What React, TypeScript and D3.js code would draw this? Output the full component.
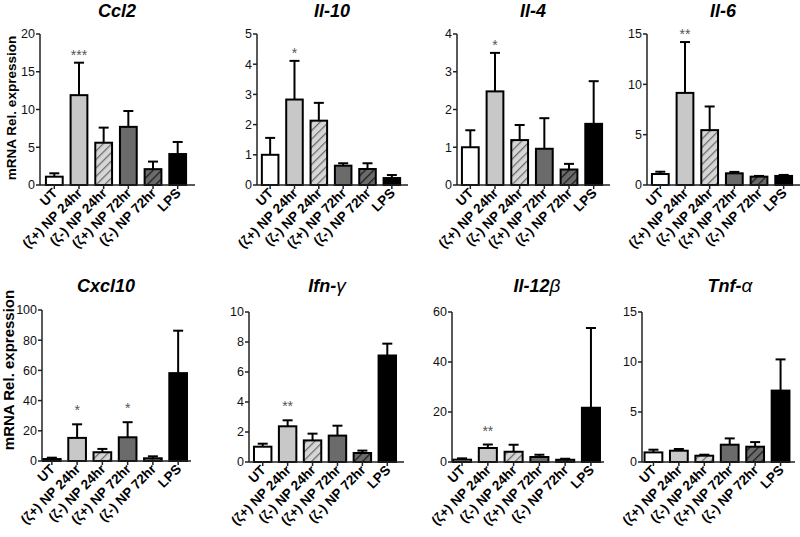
import React from 'react';
import * as d3 from 'd3';

const groups = ['UT', '(ζ+) NP 24hr', '(ζ-) NP 24hr', '(ζ+) NP 72hr', '(ζ-) NP 72hr', 'LPS'];
const genes = ['Ccl2', 'Il-10', 'Il-4', 'Il-6', 'Cxcl10', 'Ifn-γ', 'Il-12β', 'Tnf-α'];

const ccl2Mean = [1.1, 11.9, 5.6, 7.7, 2.1, 4.1];
const ccl2Err = [1.55, 16.2, 7.6, 9.8, 3.1, 5.7];
const il10Mean = [1.0, 2.83, 2.13, 0.64, 0.53, 0.23];
const il10Err = [1.56, 4.11, 2.72, 0.72, 0.72, 0.33];
const il4Mean = [1.0, 2.48, 1.19, 0.96, 0.41, 1.62];
const il4Err = [1.45, 3.5, 1.59, 1.77, 0.56, 2.75];
const il6Mean = [1.09, 9.15, 5.45, 1.16, 0.83, 0.9];
const il6Err = [1.32, 14.2, 7.8, 1.3, 0.9, 1.0];
const cxcl10Mean = [1.3, 15.3, 5.8, 15.7, 1.8, 58.2];
const cxcl10Err = [2.2, 24.3, 8.0, 25.7, 3.1, 86.3];
const ifngMean = [1.02, 2.38, 1.44, 1.76, 0.6, 7.1];
const ifngErr = [1.22, 2.78, 1.89, 2.42, 0.76, 7.89];
const il12bMean = [0.93, 5.6, 4.1, 2.0, 0.9, 21.7];
const il12bErr = [1.46, 7.0, 6.9, 2.9, 1.3, 53.6];
const tnfaMean = [0.96, 1.13, 0.63, 1.73, 1.53, 7.14];
const tnfaErr = [1.23, 1.3, 0.73, 2.36, 1.99, 10.26];

const means = [ccl2Mean, il10Mean, il4Mean, il6Mean, cxcl10Mean, ifngMean, il12bMean, tnfaMean];
const errs = [ccl2Err, il10Err, il4Err, il6Err, cxcl10Err, ifngErr, il12bErr, tnfaErr];
const yMax = [20, 5, 4, 15, 100, 10, 60, 15];
const yStep = [5, 1, 1, 5, 20, 2, 20, 5];
const stars = [
  ['', '***', '', '', '', ''],
  ['', '*', '', '', '', ''],
  ['', '*', '', '', '', ''],
  ['', '**', '', '', '', ''],
  ['', '*', '', '*', '', ''],
  ['', '**', '', '', '', ''],
  ['', '**', '', '', '', ''],
  ['', '', '', '', '', ''],
];

// layout (pixel positions)
const layout = [
  { x0: 40, w: 152, top: 34, bottom: 185, pi: 0.32, po: 0.24, titleX: 117, titleY: 17, starOff: 10 },
  { x0: 257, w: 148, top: 34, bottom: 185, pi: 0.32, po: 0.2, titleX: 332, titleY: 17, starOff: 10 },
  { x0: 457, w: 150, top: 34, bottom: 185, pi: 0.32, po: 0.2, titleX: 533, titleY: 17, starOff: 10 },
  { x0: 647, w: 150, top: 34, bottom: 185, pi: 0.32, po: 0.2, titleX: 723, titleY: 17, starOff: 10 },
  { x0: 42, w: 146, top: 310, bottom: 461, pi: 0.3, po: 0.04, titleX: 106, titleY: 292, starOff: 16 },
  { x0: 249, w: 152, top: 312, bottom: 462, pi: 0.3, po: 0.2, titleX: 327, titleY: 292, starOff: 16 },
  { x0: 452, w: 149, top: 312, bottom: 462, pi: 0.3, po: 0.04, titleX: 537, titleY: 292, starOff: 16 },
  { x0: 642, w: 150, top: 312, bottom: 462, pi: 0.3, po: 0.1, titleX: 730, titleY: 292, starOff: 16 },
];

const fills = ['#ffffff', '#c8c8c8', 'url(#hatchLight)', '#6b6b6b', 'url(#hatchDark)', '#000000'];
const FONT = 'Liberation Sans, Arial, sans-serif';

function Title({ name, x, y }: { name: string; x: number; y: number }) {
  const last = name[name.length - 1];
  const greek = /[α-ω]/.test(last);
  const main = greek ? name.slice(0, -1) : name;
  return (
    <text x={x} y={y} textAnchor="middle" fontFamily={FONT} fontSize={18} fontWeight="bold" fontStyle="italic" fill="#000">
      {main}
      {greek && <tspan fontWeight="normal" fontSize={19}>{last}</tspan>}
    </text>
  );
}

function Panel({ i }: { i: number }) {
  const L = layout[i];
  const x = d3.scaleBand<string>().domain(groups).range([L.x0, L.x0 + L.w]).paddingInner(L.pi).paddingOuter(L.po);
  const y = d3.scaleLinear().domain([0, yMax[i]]).range([L.bottom, L.top]);
  const ticks = d3.range(0, yMax[i] + yStep[i] / 2, yStep[i]);
  const bw = x.bandwidth();
  const cap = 5;
  return (
    <g>
      <Title name={genes[i]} x={L.titleX} y={L.titleY} />
      {groups.map((g, j) => {
        const cx = (x(g) as number) + bw / 2;
        return (
          <g key={'e' + j} stroke="#000" strokeWidth={2}>
            <line x1={cx} x2={cx} y1={y(means[i][j])} y2={y(errs[i][j])} />
            <line x1={cx - cap} x2={cx + cap} y1={y(errs[i][j])} y2={y(errs[i][j])} />
          </g>
        );
      })}
      {groups.map((g, j) => (
        <rect
          key={'b' + j}
          x={x(g) as number}
          y={y(means[i][j])}
          width={bw}
          height={L.bottom - y(means[i][j])}
          fill={fills[j]}
          stroke="#000"
          strokeWidth={2}
        />
      ))}
      {groups.map((g, j) =>
        stars[i][j] ? (
          <text
            key={'s' + j}
            x={(x(g) as number) + bw / 2}
            y={y(errs[i][j]) - L.starOff + 7}
            textAnchor="middle"
            fontFamily={FONT}
            fontSize={14}
            fill="#555"
          >
            {stars[i][j]}
          </text>
        ) : null
      )}
      <line x1={L.x0} x2={L.x0} y1={L.top} y2={L.bottom} stroke="#222" strokeWidth={1.5} />
      <line x1={L.x0} x2={L.x0 + L.w + 3} y1={L.bottom} y2={L.bottom} stroke="#222" strokeWidth={1.5} />
      {ticks.map((t) => (
        <g key={'t' + t}>
          <line x1={L.x0 - 4} x2={L.x0} y1={y(t)} y2={y(t)} stroke="#222" strokeWidth={1.5} />
          <text x={L.x0 - 5} y={y(t)} dy="0.35em" textAnchor="end" fontFamily={FONT} fontSize={12.5} fill="#111">
            {t}
          </text>
        </g>
      ))}
      {groups.map((g, j) => {
        const cx = (x(g) as number) + bw / 2;
        return (
          <g key={'x' + j}>
            <line x1={cx} x2={cx} y1={L.bottom} y2={L.bottom + 4} stroke="#222" strokeWidth={1.5} />
            <text
              transform={`translate(${cx + 4},${L.bottom + 9}) rotate(-45)`}
              textAnchor="end"
              fontFamily={FONT}
              fontSize={13.5}
              fontWeight="bold"
              fill="#000"
            >
              {g}
            </text>
          </g>
        );
      })}
    </g>
  );
}

export default function App() {
  return (
    <svg width={800} height={537} style={{ position: 'absolute', left: 0, top: 0, background: '#fff' }}>
      <defs>
        <pattern id="hatchLight" patternUnits="userSpaceOnUse" width={6} height={6} patternTransform="rotate(45)">
          <rect width={6} height={6} fill="#d6d6d6" />
          <line x1={0} y1={0} x2={0} y2={6} stroke="#6a6a6a" strokeWidth={2.5} />
        </pattern>
        <pattern id="hatchDark" patternUnits="userSpaceOnUse" width={6} height={6} patternTransform="rotate(45)">
          <rect width={6} height={6} fill="#6b6b6b" />
          <line x1={0} y1={0} x2={0} y2={6} stroke="#1a1a1a" strokeWidth={2.5} />
        </pattern>
      </defs>
      <rect width={800} height={537} fill="#fff" />
      <text transform="translate(16,108) rotate(-90)" textAnchor="middle" fontFamily={FONT} fontSize={13.5} fontWeight="bold">
        mRNA Rel. expression
      </text>
      <text transform="translate(14,370) rotate(-90)" textAnchor="middle" fontFamily={FONT} fontSize={15} fontWeight="bold">
        mRNA Rel. expression
      </text>
      {genes.map((_, i) => (
        <Panel key={i} i={i} />
      ))}
    </svg>
  );
}
